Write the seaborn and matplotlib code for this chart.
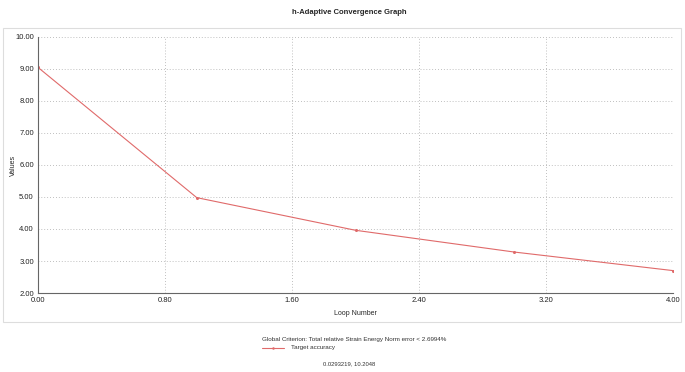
import matplotlib
matplotlib.use("Agg")
import matplotlib.pyplot as plt
import seaborn as sns
import pandas as pd
from matplotlib.patches import Rectangle
from matplotlib.ticker import MultipleLocator, FormatStrFormatter

loops = [0, 1, 2, 3, 4]
values = [9.05, 4.98, 3.96, 3.28, 2.70]
series_name = "Target accuracy"
title = "h-Adaptive Convergence Graph"
criterion = "Global Criterion: Total relative Strain Energy Norm error < 2.6994%"
coords = "0.0293219, 10.2048"

df = pd.DataFrame({"Loop Number": loops, "Values": values})

sns.set_style("white")
plt.rcParams["font.family"] = ["Liberation Sans", "DejaVu Sans"]

fig = plt.figure(figsize=(6.85, 3.72), dpi=100)
ax = fig.add_axes([38/685, 1-293/372, (673-38)/685, (293-37)/372])

line_color = "#e06a6a"
sns.lineplot(data=df, x="Loop Number", y="Values", ax=ax, color=line_color,
             linewidth=0.8, marker="o", markersize=2.2, markeredgewidth=0,
             legend=False)

ax.set_xlim(0, 4)
ax.set_ylim(2, 10)
ax.xaxis.set_major_locator(MultipleLocator(0.8))
ax.xaxis.set_minor_locator(MultipleLocator(0.4))
ax.yaxis.set_major_locator(MultipleLocator(1))
ax.yaxis.set_minor_locator(MultipleLocator(0.5))
ax.xaxis.set_major_formatter(FormatStrFormatter("%.2f"))
ax.yaxis.set_major_formatter(FormatStrFormatter("%.2f"))
ax.tick_params(axis="both", which="both", labelsize=5.5, width=0.6,
               color="#555555", labelcolor="#222222", pad=1.5)
ax.tick_params(axis="x", which="both", direction="inout", length=3)
ax.tick_params(axis="y", which="both", direction="inout", length=3)
ax.grid(True, which="major", linestyle=(0, (1, 2.5)), color="#aaaaaa", linewidth=0.6)
for s in ["top", "right"]:
    ax.spines[s].set_visible(False)
for s in ["left", "bottom"]:
    ax.spines[s].set_color("#666666")
    ax.spines[s].set_linewidth(0.8)

ax.set_xlabel("Loop Number", fontsize=5, labelpad=4)
ax.set_ylabel("")
fig.text(13/685, 1-165/372, "Values", rotation=90, ha="center", va="center", fontsize=5)

fig.text(349/685, 1-12/372, title, ha="center", va="center", fontsize=5.5, fontweight="bold")
fig.text(262/685, 1-340/372, criterion, ha="left", va="center", fontsize=4.5, color="#333333")
fig.add_artist(plt.Line2D([262/685, 284/685], [1-348/372, 1-348/372], color=line_color,
                          linewidth=0.8))
fig.add_artist(plt.Line2D([273/685], [1-348/372], color=line_color, marker="o", markersize=1.8,
                          markeredgewidth=0, linestyle="none"))
fig.text(291/685, 1-348/372, series_name, ha="left", va="center", fontsize=4.5, color="#333333")
fig.text(349/685, 1-364/372, coords, ha="center", va="center", fontsize=4.2, color="#333333")

fig.add_artist(Rectangle((3/685, 1-322/372), 678/685, 294/372, transform=fig.transFigure,
                         fill=False, edgecolor="#dddddd", linewidth=0.8))

fig.savefig("out.png", dpi=100, facecolor="white")
